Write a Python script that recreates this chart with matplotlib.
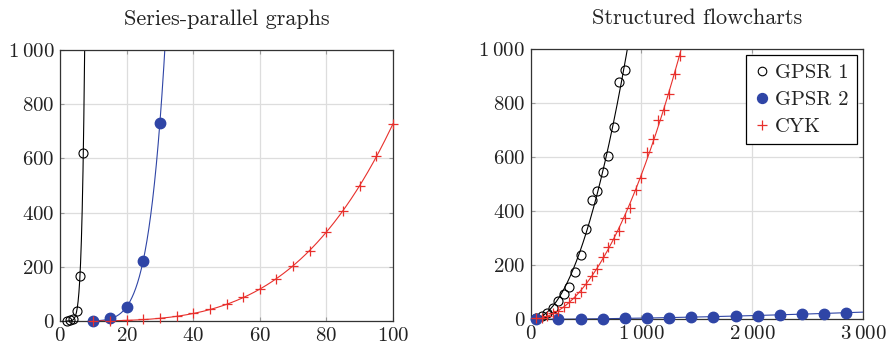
import numpy as np
import matplotlib
matplotlib.use('Agg')
import matplotlib.pyplot as plt
from matplotlib.ticker import FuncFormatter, FixedLocator

# ---- data: Series-parallel graphs ----
sp_gpsr1_x = [2, 3, 4, 5, 6, 7]
sp_gpsr1_y = [0.5, 2, 8, 37, 166, 621]
sp_gpsr2_x = [10, 15, 20, 25, 30]
sp_gpsr2_y = [1, 10, 53, 223, 732]
sp_cyk_x = [10, 15, 20, 25, 30, 35, 40, 45, 50, 55, 60, 65, 70, 75, 80, 85, 90, 95, 100]
sp_cyk_y = [0.5, 1, 3, 6, 11, 18, 28, 45, 63, 87, 118, 154, 203, 258, 330, 407, 499, 610, 726]

# ---- data: Structured flowcharts ----
fc_gpsr1_x = [50, 100, 150, 200, 250, 300, 350, 400, 450, 500, 550, 600, 650, 700, 750, 800, 850]
fc_gpsr1_y = [5, 12, 25, 42, 66, 92, 118, 177, 240, 333, 442, 474, 547, 603, 714, 879, 922]
fc_gpsr2_x = [50, 250, 450, 650, 850, 1050, 1250, 1450, 1650, 1850, 2050, 2250, 2450, 2650, 2850]
fc_gpsr2_y = [0.5, 1, 1.5, 2, 3, 4, 6, 8, 10, 12, 14, 17, 19, 21, 25]
fc_cyk_x = [50, 100, 150, 200, 250, 300, 350, 400, 450, 500, 550, 600, 650, 700, 750,
            800, 850, 900, 950, 1000, 1050, 1100, 1150, 1200, 1250, 1300, 1350]
fc_cyk_y = [3, 6, 12, 22, 31, 46, 65, 80, 102, 130, 161, 188, 229, 266, 297,
            328, 377, 412, 478, 522, 620, 668, 738, 777, 835, 908, 976]

titles = ["Series-parallel graphs", "Structured flowcharts"]
series_names = ["GPSR 1", "GPSR 2", "CYK"]
left_xticks = [0, 20, 40, 60, 80, 100]
right_xticks = [0, 1000, 2000, 3000]
yticks = [0, 200, 400, 600, 800, 1000]

BLUE = '#2f45a6'
RED = '#e8302c'

plt.rcParams['font.family'] = ['cmr10', 'DejaVu Serif']
plt.rcParams['mathtext.fontset'] = 'cm'
plt.rcParams['axes.formatter.use_mathtext'] = True


def fmt(v, pos=None):
    v = int(round(v))
    if v >= 1000:
        s = f"{v:,}".replace(",", r"\:")
    else:
        s = str(v)
    return f"${s}$"


def power_fit(x, y, xmax):
    x = np.asarray(x, float)
    y = np.asarray(y, float)
    b, a = np.polyfit(np.log(x), np.log(y), 1, w=y)
    xs = np.linspace(x[0], xmax, 800)
    return xs, np.exp(a) * xs ** b


fig = plt.figure(figsize=(8.91, 3.46), dpi=100)
ax1 = fig.add_axes([60 / 891, 25 / 346, 333 / 891, 271 / 346])
ax2 = fig.add_axes([530.7 / 891, 26.7 / 346, 332.3 / 891, 270 / 346])


def style(ax, xticks, xmax, title):
    ax.set_xlim(0, xmax)
    ax.set_ylim(0, 1000)
    ax.xaxis.set_major_locator(FixedLocator(xticks))
    ax.yaxis.set_major_locator(FixedLocator(yticks))
    ax.xaxis.set_major_formatter(FuncFormatter(fmt))
    ax.yaxis.set_major_formatter(FuncFormatter(fmt))
    ax.tick_params(direction='in', length=3, width=0.8, color='#999999',
                   labelcolor='#222222', top=True, right=True, labelsize=15, pad=4)
    ax.grid(True, color='#dddddd', linewidth=0.9)
    ax.set_axisbelow(True)
    for s in ax.spines.values():
        s.set_color('#333333')
        s.set_linewidth(0.9)
    ax.set_title(title, fontsize=16, pad=18, color='#222222')


def draw(ax, data, xmax):
    (g1x, g1y), (g2x, g2y), (cx, cy) = data
    for (x, y, c) in [(g1x, g1y, 'black'), (g2x, g2y, BLUE), (cx, cy, RED)]:
        xs, ys = power_fit(x, y, xmax)
        ax.plot(xs, ys, color=c, linewidth=0.8, zorder=2)
    ax.plot(g1x, g1y, linestyle='none', marker='o', markersize=6.5,
            markerfacecolor='none', markeredgecolor='black', markeredgewidth=0.8,
            clip_on=False, zorder=3, label=series_names[0])
    ax.plot(g2x, g2y, linestyle='none', marker='o', markersize=7.5,
            markerfacecolor=BLUE, markeredgecolor=BLUE,
            clip_on=False, zorder=3, label=series_names[1])
    ax.plot(cx, cy, linestyle='none', marker='+', markersize=7.5,
            markeredgecolor=RED, markeredgewidth=0.9,
            clip_on=False, zorder=3, label=series_names[2])


style(ax1, left_xticks, 100, titles[0])
style(ax2, right_xticks, 3000, titles[1])
draw(ax1, [(sp_gpsr1_x, sp_gpsr1_y), (sp_gpsr2_x, sp_gpsr2_y), (sp_cyk_x, sp_cyk_y)], 100)
draw(ax2, [(fc_gpsr1_x, fc_gpsr1_y), (fc_gpsr2_x, fc_gpsr2_y), (fc_cyk_x, fc_cyk_y)], 3000)

leg = ax2.legend(loc='upper right', fontsize=14.8, frameon=True, fancybox=False,
                 edgecolor='black', framealpha=1, handlelength=0.7, handletextpad=0.3,
                 borderpad=0.4, labelspacing=0.42, borderaxespad=0.3, markerscale=0.95)
leg.get_frame().set_linewidth(0.9)
for t in leg.get_texts():
    t.set_color('#222222')

fig.savefig('out.png', dpi=100)
